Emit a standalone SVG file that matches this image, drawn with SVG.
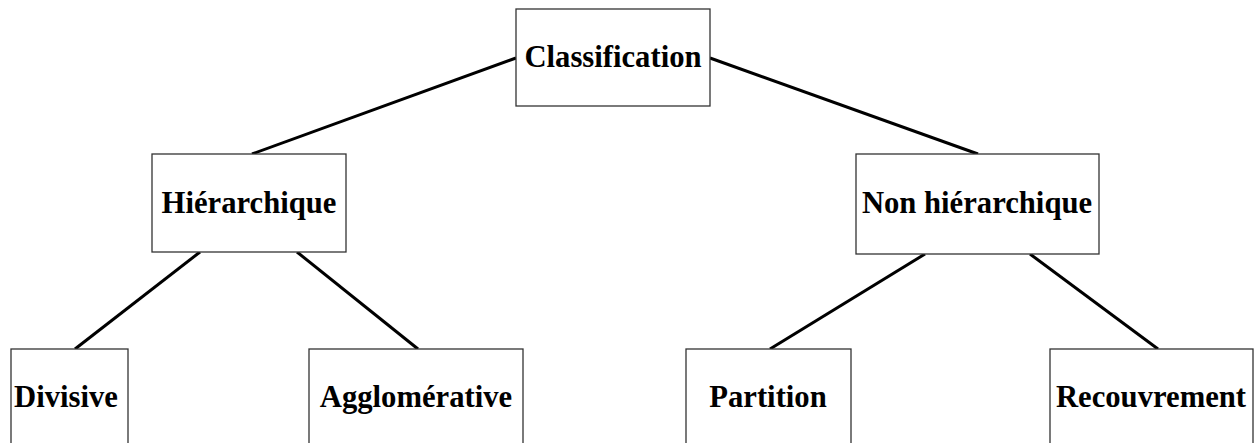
<svg xmlns="http://www.w3.org/2000/svg" width="1256" height="443" viewBox="0 0 1256 443">
<style>
.box{fill:#fff;stroke:#333;stroke-width:1.3}
.lbl{font-family:"Liberation Serif","Times New Roman",serif;font-weight:bold;font-size:30.67px;text-anchor:middle;fill:#000}
.edge{stroke:#000;stroke-width:3;fill:none}
</style>
<rect width="1256" height="443" fill="#fff"/>
<g id="connectors">
<line class="edge" x1="516" y1="58" x2="252" y2="154"/>
<line class="edge" x1="710" y1="58" x2="978" y2="154"/>
<line class="edge" x1="200" y1="252" x2="75" y2="349"/>
<line class="edge" x1="297" y1="252" x2="418" y2="349"/>
<line class="edge" x1="925" y1="254" x2="770" y2="349"/>
<line class="edge" x1="1030" y1="254" x2="1158" y2="349"/>
</g>
<g id="classification">
<rect class="box" x="516" y="9" width="194" height="97"/>
<text class="lbl" x="613" y="67">Classification</text>
</g>
<g id="hierarchique">
<rect class="box" x="152" y="154" width="194" height="98"/>
<text class="lbl" x="249" y="213">Hiérarchique</text>
</g>
<g id="non-hierarchique">
<rect class="box" x="856" y="154" width="243" height="100"/>
<text class="lbl" x="977" y="213">Non hiérarchique</text>
</g>
<g id="divisive">
<rect class="box" x="11" y="349" width="117" height="100"/>
<text class="lbl" x="66" y="407">Divisive</text>
</g>
<g id="agglomerative">
<rect class="box" x="309" y="349" width="214" height="100"/>
<text class="lbl" x="416" y="407">Agglomérative</text>
</g>
<g id="partition">
<rect class="box" x="686" y="349" width="165" height="100"/>
<text class="lbl" x="768" y="407">Partition</text>
</g>
<g id="recouvrement">
<rect class="box" x="1050" y="349" width="203" height="100"/>
<text class="lbl" x="1151" y="407">Recouvrement</text>
</g>
</svg>
